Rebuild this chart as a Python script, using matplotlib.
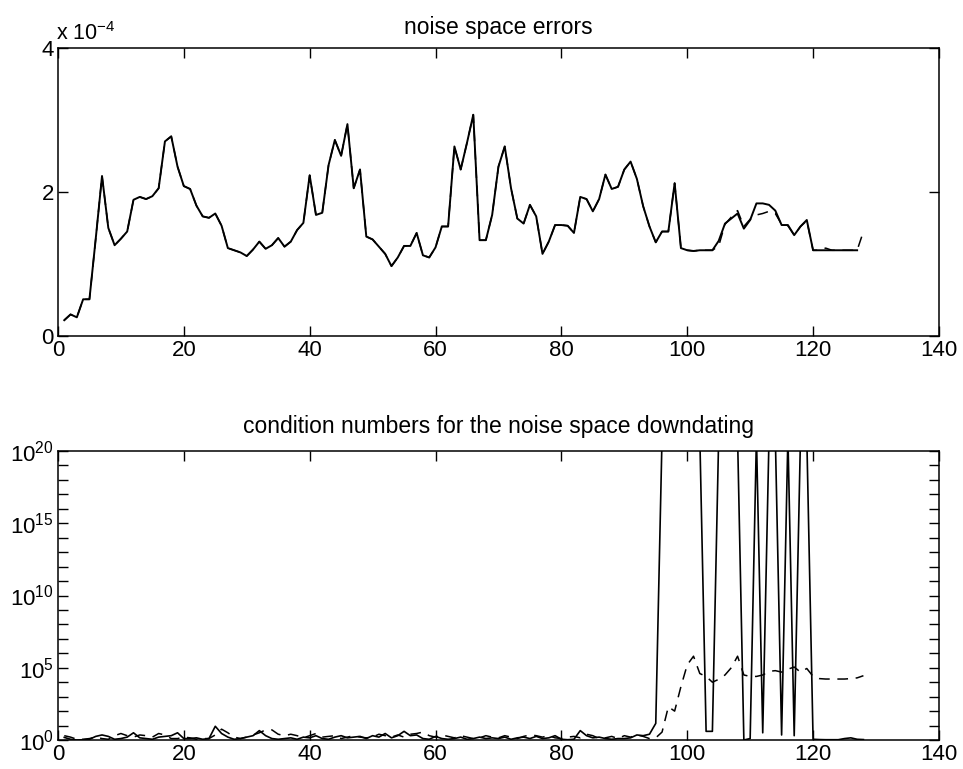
import numpy as np
import matplotlib
matplotlib.use("Agg")
import matplotlib.pyplot as plt

plt.rcParams["font.family"] = ["Liberation Sans", "DejaVu Sans"]

# noise space errors, in units of 1e-4 (solid: 127 points, dashed: 128 points)
err_solid = [
    0.22, 0.30, 0.26, 0.51, 0.51, 1.35, 2.22, 1.50, 1.26, 1.35,
    1.45, 1.89, 1.93, 1.90, 1.94, 2.05, 2.70, 2.77, 2.35, 2.08,
    2.04, 1.81, 1.66, 1.64, 1.70, 1.53, 1.22, 1.19, 1.16, 1.11,
    1.20, 1.31, 1.21, 1.26, 1.36, 1.24, 1.31, 1.47, 1.57, 2.23,
    1.68, 1.71, 2.37, 2.72, 2.50, 2.94, 2.05, 2.31, 1.38, 1.34,
    1.24, 1.14, 0.97, 1.09, 1.25, 1.25, 1.43, 1.12, 1.09, 1.23,
    1.52, 1.52, 2.63, 2.31, 2.68, 3.07, 1.33, 1.33, 1.68, 2.35,
    2.63, 2.05, 1.63, 1.56, 1.82, 1.66, 1.14, 1.31, 1.54, 1.54,
    1.53, 1.43, 1.93, 1.90, 1.73, 1.90, 2.24, 2.04, 2.07, 2.31,
    2.42, 2.18, 1.80, 1.52, 1.30, 1.45, 1.45, 2.12, 1.22, 1.19,
    1.18, 1.19, 1.19, 1.19, 1.32, 1.56, 1.63, 1.70, 1.49, 1.61,
    1.84, 1.84, 1.82, 1.74, 1.54, 1.54, 1.40, 1.52, 1.61, 1.19,
    1.19, 1.19, 1.19, 1.19, 1.19, 1.19, 1.19,
]
err_dashed_tail = [  # indices 105..128, before that it follows the solid line
    1.25, 1.55, 1.65, 1.74, 1.52, 1.62, 1.68, 1.70, 1.73, 1.70,
    1.55, 1.53, 1.40, 1.52, 1.60, 1.19, 1.19, 1.22, 1.19, 1.19,
    1.19, 1.19, 1.19, 1.45,
]
err_dashed = err_solid[:104] + err_dashed_tail

# condition numbers, log10 values (21 = off the top of the axes)
cond_solid_log = [
    0.18, 0.05, 0.00, 0.02, 0.05, 0.25, 0.35, 0.25, 0.05, 0.10,
    0.20, 0.50, 0.15, 0.10, 0.05, 0.20, 0.25, 0.30, 0.50, 0.10,
    0.10, 0.15, 0.05, 0.10, 0.95, 0.45, 0.20, 0.05, 0.10, 0.20,
    0.30, 0.65, 0.30, 0.10, 0.05, 0.10, 0.15, 0.05, 0.20, 0.15,
    0.30, 0.10, 0.05, 0.20, 0.30, 0.15, 0.20, 0.25, 0.10, 0.30,
    0.20, 0.45, 0.15, 0.30, 0.60, 0.30, 0.35, 0.10, 0.05, 0.25,
    0.10, 0.05, 0.10, 0.20, 0.05, 0.10, 0.20, 0.10, 0.15, 0.10,
    0.20, 0.05, 0.15, 0.20, 0.10, 0.25, 0.10, 0.15, 0.30, 0.05,
    0.02, 0.05, 0.65, 0.30, 0.15, 0.20, 0.10, 0.05, 0.10, 0.10,
    0.15, 0.35, 0.30, 0.40, 1.15, 21.0, 21.0, 21.0, 21.0, 21.0,
    21.0, 21.0, 0.60, 0.60, 21.0, 21.0, 21.0, 21.0, 0.00, 0.10,
    21.0, 0.50, 21.0, 21.0, 0.35, 21.0, 0.30, 21.0, 21.0, 0.05,
    0.03, 0.02, 0.02, 0.02, 0.10, 0.15, 0.05, 0.03,
]
cond_dashed_log = [
    0.30, 0.20, 0.05, 0.05, 0.10, 0.20, 0.10, 0.05, 0.30, 0.45,
    0.30, 0.20, 0.35, 0.30, 0.20, 0.45, 0.35, 0.10, 0.10, 0.20,
    0.15, 0.05, 0.10, 0.10, 0.35, 0.75, 0.50, 0.20, 0.10, 0.20,
    0.35, 0.50, 0.70, 0.70, 0.40, 0.30, 0.40, 0.30, 0.15, 0.30,
    0.45, 0.20, 0.25, 0.30, 0.10, 0.20, 0.30, 0.20, 0.15, 0.20,
    0.40, 0.30, 0.20, 0.35, 0.20, 0.40, 0.45, 0.55, 0.30, 0.20,
    0.35, 0.25, 0.15, 0.30, 0.20, 0.10, 0.15, 0.30, 0.20, 0.15,
    0.30, 0.20, 0.10, 0.25, 0.35, 0.30, 0.20, 0.30, 0.15, 0.10,
    0.20, 0.25, 0.15, 0.40, 0.30, 0.10, 0.15, 0.25, 0.10, 0.30,
    0.20, 0.35, 0.25, 0.10, 0.15, 0.55, 2.30, 2.00, 3.70, 5.20,
    5.80, 4.60, 4.40, 4.00, 4.20, 4.50, 5.00, 5.80, 4.50, 4.40,
    4.40, 4.50, 4.75, 4.80, 4.70, 4.90, 5.05, 4.70, 4.95, 4.40,
    4.25, 4.22, 4.22, 4.22, 4.22, 4.25, 4.30, 4.45,
]

x_ticks = [0, 20, 40, 60, 80, 100, 120, 140]

fig = plt.figure(figsize=(9.63, 7.69), dpi=100)
ax1 = fig.add_axes([0.0602, 0.563, 0.9148, 0.375])
ax2 = fig.add_axes([0.0602, 0.0377, 0.9148, 0.3758])

dash = (0, (7, 5))

ax1.plot(np.arange(1, len(err_dashed) + 1), err_dashed, color="black", lw=1.1, linestyle=dash)
ax1.plot(np.arange(1, len(err_solid) + 1), err_solid, color="black", lw=1.4)
ax1.set_xlim(0, 140)
ax1.set_ylim(0, 4)
ax1.set_yticks([0, 2, 4])
ax1.set_yticklabels(["0", "2", "4"])
ax1.set_title("noise space errors", fontsize=16.5, pad=10)
ax1.text(-0.002, 1.01, r"x 10$^{\mathregular{-4}}$", transform=ax1.transAxes,
         fontsize=15.5, ha="left", va="bottom")

ax2.plot(np.arange(1, len(cond_dashed_log) + 1), 10.0 ** np.array(cond_dashed_log),
         color="black", lw=1.1, linestyle=dash)
ax2.plot(np.arange(1, len(cond_solid_log) + 1), 10.0 ** np.array(cond_solid_log),
         color="black", lw=1.2)
ax2.set_yscale("log")
ax2.set_xlim(0, 140)
ax2.set_ylim(1, 1e20)
ax2.set_yticks([10.0 ** k for k in range(0, 21)])
ax2.set_yticklabels([r"10$^{\mathregular{%d}}$" % k if k % 5 == 0 else "" for k in range(0, 21)])
ax2.yaxis.set_minor_locator(matplotlib.ticker.NullLocator())
ax2.set_title("condition numbers for the noise space downdating", fontsize=16.5, pad=13)

for ax in (ax1, ax2):
    ax.set_xticks(x_ticks)
    ax.tick_params(direction="in", top=True, right=True, length=7, width=1.0,
                   labelsize=16, pad=3)
    for s in ax.spines.values():
        s.set_linewidth(1.1)

fig.savefig("out.png", dpi=100)
